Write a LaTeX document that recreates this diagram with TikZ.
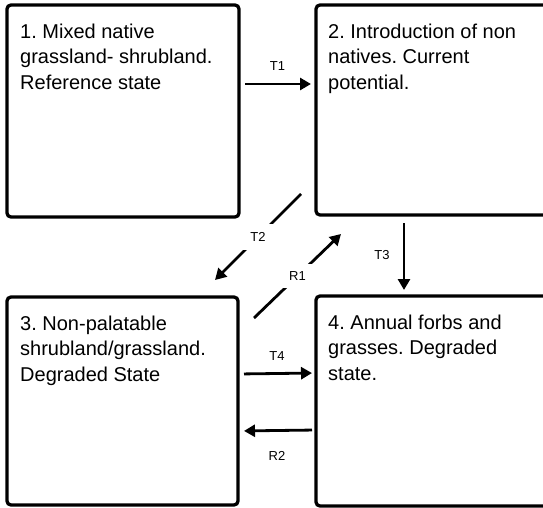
\documentclass[tikz,border=0pt]{standalone}
\usepackage{fontspec}
\setmainfont{Liberation Sans}
\usetikzlibrary{arrows.meta,positioning}
\frenchspacing

\tikzset{
  statebox/.style={draw, line width=3.3pt, rounded corners=4pt, outer sep=0pt, inner sep=0pt},
  statetext/.style={anchor=north west, inner sep=0pt, align=left, font=\fontsize{20}{25.5}\selectfont},
  trans/.style={line width=2.8pt, -{Triangle[length=11pt, width=12pt]}},
  translabel/.style={font=\fontsize{13}{15}\selectfont, inner sep=2pt},
  gaplabel/.style={translabel, fill=white, inner sep=8pt}
}

\begin{document}
\begin{tikzpicture}[x=1pt, y=-1pt]
\clip (0,0) rectangle (543,508);
\fill[white] (0,0) rectangle (543,508);

% states
\node[statebox, minimum width=232pt, minimum height=212pt] (b1) at (123,111) {};
\node[statebox, minimum width=240pt, minimum height=210pt] (b2) at (436,110) {};
\node[statebox, minimum width=231pt, minimum height=208pt] (b3) at (122.5,401) {};
\node[statebox, minimum width=240pt, minimum height=210pt] (b4) at (436,401) {};

\node[statetext, below right=18.5pt and 13pt of b1.north west] (s1) {1. Mixed native\\grassland- shrubland.\\Reference state};
\node[statetext, below right=18.5pt and 12pt of b2.north west] (s2) {2. Introduction of non\\natives. Current\\potential.};
\node[statetext, below right=18.5pt and 13pt of b3.north west] (s3) {3. Non-palatable\\shrubland/grassland.\\Degraded State};
\node[statetext, below right=18.5pt and 12pt of b4.north west] (s4) {4. Annual forbs and\\grasses. Degraded\\state.};

% transitions
\draw[trans, shorten <=6pt, shorten >=5pt] ([yshift=-79pt]b1.north east) -- node[translabel, midway, above=10pt] (l1) {T1} ([yshift=-79pt]b2.north west);
\draw[trans, shorten <=8pt, shorten >=6pt] ([xshift=-32pt]b2.south) -- node[translabel, midway, left=11pt] (l3) {T3} ([xshift=-32pt]b4.north);
\draw[trans, shorten <=6pt, shorten >=4pt] ([yshift=-77pt]b3.north east) -- node[translabel, midway, above=10pt] (l4) {T4} ([yshift=-77pt]b4.north west);
\draw[trans, shorten <=4pt, shorten >=6pt] ([yshift=-134pt]b4.north west) -- node[translabel, midway, below=18pt] (l6) {R2} ([yshift=-134pt]b3.north east);

\coordinate (t2a) at ([shift={(-15,-21)}]b2.south west);
\coordinate (t2b) at ([shift={(-23,-17)}]b3.north east);
\draw[trans] (t2a) -- node[gaplabel, midway] (l2) {T2} (t2b);

\coordinate (r1a) at ([shift={(16,21)}]b3.north east);
\coordinate (r1b) at ([shift={(25,19)}]b2.south west);
\draw[trans] (r1a) -- node[gaplabel, midway] (l5) {R1} (r1b);
\end{tikzpicture}
\end{document}
